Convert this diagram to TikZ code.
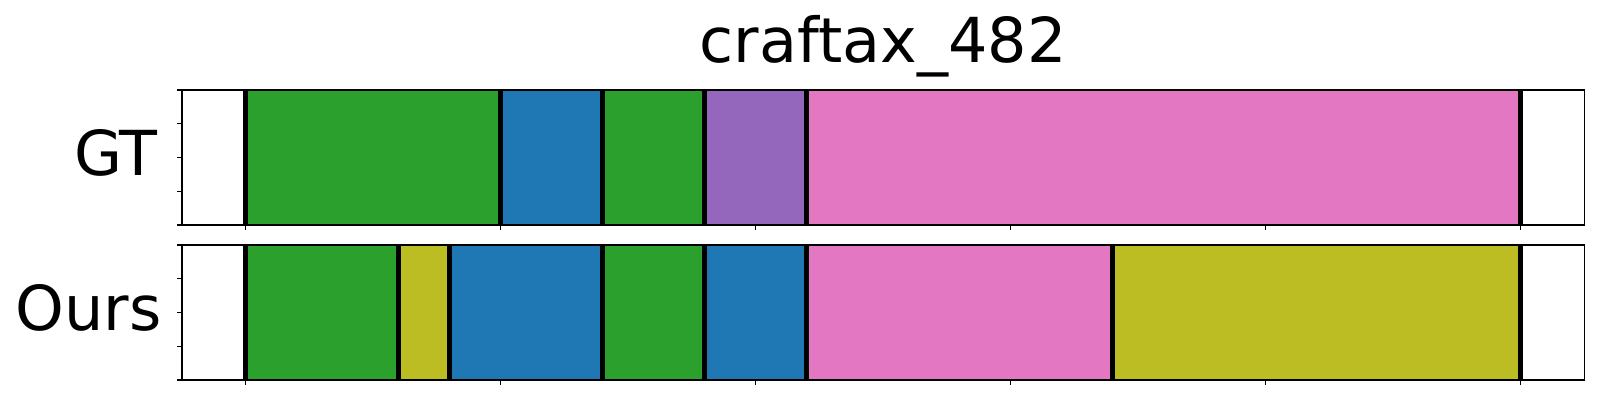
\documentclass[tikz,border=0pt]{standalone}
\usepackage{fontspec}
\setmainfont{DejaVu Sans}
\definecolor{tabgreen}{HTML}{2CA02C}
\definecolor{tabblue}{HTML}{1F77B4}
\definecolor{tabpurple}{HTML}{9467BD}
\definecolor{tabpink}{HTML}{E377C2}
\definecolor{tabolive}{HTML}{BCBD22}
\tikzset{
	frame/.style={draw=black, line width=1.2pt},
	cut/.style={black, line width=4.5pt},
	tickmark/.style={black, line width=1.2pt},
	bigtext/.style={font=\fontsize{62}{70}\selectfont, inner sep=0pt},
}
\begin{document}
\begin{tikzpicture}[x=25.5pt, y=135pt]
			\useasboundingbox (-245.7pt,0pt) rectangle (1354.3pt,400pt);
			\node[bigtext, anchor=base] (title) at (25, 2.5015) {craftax\_482};
			
			% GT row
			\begin{scope}[yshift=175pt]
			\def\gt {0/10/tabgreen, 10/14/tabblue, 14/18/tabgreen, 18/22/tabpurple, 22/50/tabpink}
			\foreach \u\v\c in \gt
			{	\fill[\c] (\u,0) rectangle (\v,1);
			}
			\foreach \x in {0,10,14,18,22,50}
			{	\draw[cut] (\x,0) -- (\x,1);
			}
			\draw[frame] (-2.5,0) rectangle (52.5,1);
			\foreach \t in {0,0.25,0.5,0.75,1}  % y ticks
			{	\draw[tickmark] (-2.5,\t) -- ++(-5.4pt,0pt);
			}
			\foreach \x in {0,10,...,50}  % x ticks
			{	\draw[tickmark] (\x,0) -- ++(0pt,-5.4pt);
			}
			\node[bigtext, anchor=base east] (gtlabel) at (-3.44,0.37) {GT};
			\end{scope}
			
			% Ours row
			\begin{scope}[yshift=20pt]
			\def\ours {0/6/tabgreen, 6/8/tabolive, 8/14/tabblue, 14/18/tabgreen, 18/22/tabblue, 22/34/tabpink, 34/50/tabolive}
			\foreach \u\v\c in \ours
			{	\fill[\c] (\u,0) rectangle (\v,1);
			}
			\foreach \x in {0,6,8,14,18,22,34,50}
			{	\draw[cut] (\x,0) -- (\x,1);
			}
			\draw[frame] (-2.5,0) rectangle (52.5,1);
			\foreach \t in {0,0.25,0.5,0.75,1}  % y ticks
			{	\draw[tickmark] (-2.5,\t) -- ++(-5.4pt,0pt);
			}
			\foreach \x in {0,10,...,50}  % x ticks
			{	\draw[tickmark] (\x,0) -- ++(0pt,-5.4pt);
			}
			\node[bigtext, anchor=base east] (ourslabel) at (-3.29,0.370) {Ours};
			\end{scope}
		\end{tikzpicture}
\end{document}
